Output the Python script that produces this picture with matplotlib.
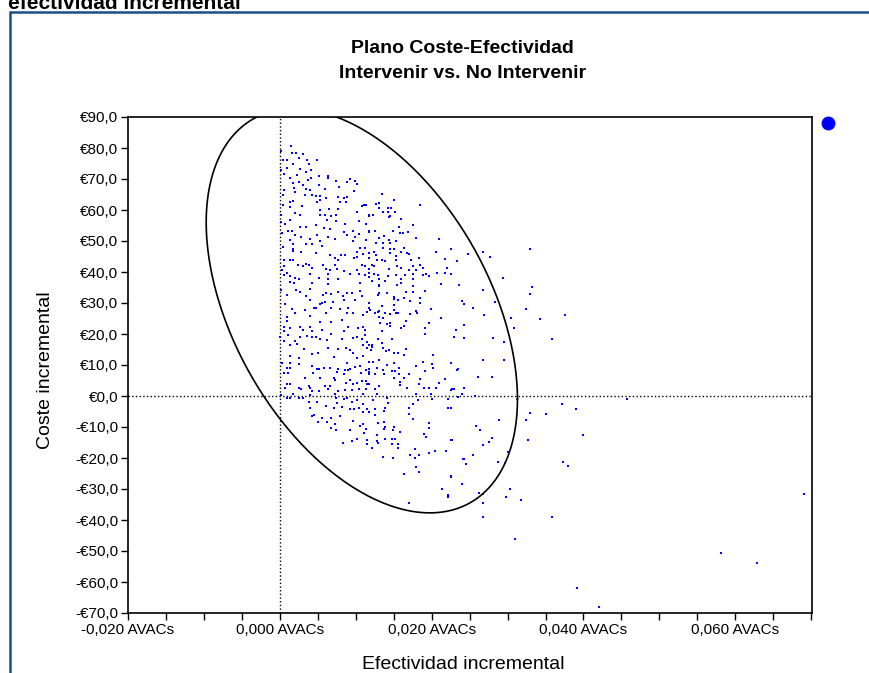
"""
Plano coste-efectividad: Intervenir vs. No Intervenir
"""

import numpy as np
import matplotlib
matplotlib.use('Agg')
import matplotlib.pyplot as plt
from matplotlib.lines import Line2D
from matplotlib.patches import Rectangle
from matplotlib.ticker import FuncFormatter, MultipleLocator

plt.rcParams['font.family'] = ['Liberation Sans', 'DejaVu Sans']

# Simulaciones (efectividad en AVACs, coste en €)
nube_superior = [
    (0.0015, 80.8), (0.0001, 79.0), (0.0016, 78.3), (0.0021, 78.3), (0.0031, 78.0),
    (0.0004, 76.1), (0.0009, 76.1), (0.0025, 76.7), (0.0036, 76.1), (0.0049, 76.1), (0.0039, 74.7), (0.0017, 74.7),
    (0.0010, 73.5), (0.0001, 72.9), (0.0026, 73.1), (0.0041, 73.0), (0.0035, 72.4),
    (0.0005, 71.5), (0.0022, 71.3), (0.0052, 71.1), (0.0064, 71.1), (0.0013, 70.4), (0.0041, 70.4), (0.0037, 69.7),
    (0.0074, 69.5), (0.0064, 70.2), (0.0088, 69.1), (0.0093, 69.9), (0.0099, 69.5),
    (0.0018, 68.6), (0.0025, 69.1), (0.0031, 68.1), (0.0052, 68.1), (0.0078, 67.3), (0.0019, 67.2), (0.0035, 66.8),
    (0.0060, 66.8), (0.0040, 66.5), (0.0101, 68.3), (0.0098, 66.2), (0.0005, 66.5),
    (0.0020, 65.7), (0.0004, 64.9), (0.0033, 64.9), (0.0042, 64.9), (0.0048, 64.5), (0.0053, 64.5), (0.0053, 63.2),
    (0.0061, 63.8), (0.0077, 64.1), (0.0084, 63.8), (0.0089, 64.3), (0.0079, 62.7), (0.0013, 62.7), (0.0017, 62.9),
    (0.0049, 62.7), (0.0087, 62.7),
    (0.0004, 61.6), (0.0029, 61.4), (0.0014, 61.1), (0.0108, 61.3), (0.0111, 61.6), (0.0114, 61.6), (0.0053, 60.0),
    (0.0065, 60.3), (0.0077, 60.3), (0.0074, 58.4), (0.0060, 58.4), (0.0053, 58.4), (0.0068, 58.1), (0.0101, 59.2),
    (0.0020, 58.9), (0.0027, 58.4), (0.0001, 58.4), (0.0118, 58.2),
    (0.0014, 56.8), (0.0062, 56.8), (0.0074, 56.3), (0.0104, 56.3), (0.0001, 56.0), (0.0007, 55.4), (0.0048, 55.2),
    (0.0086, 55.4), (0.0114, 55.4), (0.0026, 54.6), (0.0035, 54.6), (0.0058, 54.1), (0.0066, 53.9), (0.0011, 53.3),
    (0.0016, 53.3), (0.0084, 53.0), (0.0097, 53.2), (0.0117, 53.0), (0.0104, 52.2), (0.0003, 52.5),
    (0.0020, 51.9), (0.0028, 51.4), (0.0049, 51.9), (0.0064, 51.4), (0.0088, 51.9), (0.0099, 51.4), (0.0014, 50.3),
    (0.0040, 50.7), (0.0053, 50.0), (0.0073, 50.7), (0.0096, 50.0), (0.0114, 50.3), (0.0017, 48.9), (0.0035, 48.9),
    (0.0042, 48.9), (0.0055, 48.5), (0.0106, 47.6), (0.0112, 47.6), (0.0004, 48.2), (0.0017, 47.4),
    (0.0135, 65.1), (0.0150, 63.1), (0.0127, 61.8), (0.0131, 62.4), (0.0130, 60.6), (0.0143, 60.6), (0.0147, 60.6),
    (0.0184, 61.5), (0.0136, 59.5), (0.0142, 59.5), (0.0152, 59.5), (0.0118, 58.3), (0.0123, 58.3), (0.0144, 57.9),
    (0.0145, 58.1), (0.0160, 57.0), (0.0175, 55.2), (0.0157, 54.6), (0.0118, 53.2), (0.0126, 53.2), (0.0149, 53.2),
    (0.0158, 52.5), (0.0162, 52.5), (0.0169, 53.0), (0.0137, 51.6), (0.0131, 50.9), (0.0144, 50.3), (0.0153, 50.0),
    (0.0180, 50.9), (0.0210, 50.7), (0.0127, 49.3), (0.0136, 49.3), (0.0145, 49.3), (0.0136, 47.7), (0.0145, 47.4),
    (0.0151, 47.4), (0.0163, 47.7), (0.0225, 47.4),
]

nube_media = [
    (0.0018, 46.9), (0.0028, 46.6), (0.0048, 46.0), (0.0066, 45.6), (0.0080, 45.5), (0.0086, 45.4), (0.0102, 46.6),
    (0.0109, 45.8), (0.0118, 46.2), (0.0101, 45.0),
    (0.0005, 43.9), (0.0014, 43.9), (0.0018, 43.9), (0.0073, 44.4), (0.0077, 43.9), (0.0098, 44.4), (0.0117, 44.4),
    (0.0035, 42.6), (0.0039, 42.3), (0.0024, 42.3), (0.0031, 41.9), (0.0057, 42.3), (0.0073, 42.3), (0.0108, 42.3),
    (0.0112, 41.9), (0.0006, 41.9),
    (0.0003, 40.6), (0.0042, 41.2), (0.0061, 40.9), (0.0066, 40.6), (0.0075, 40.9), (0.0084, 40.4), (0.0101, 40.6),
    (0.0117, 40.9), (0.0009, 39.6), (0.0040, 39.4), (0.0064, 39.4), (0.0092, 39.4), (0.0104, 39.4), (0.0005, 39.0),
    (0.0013, 38.7), (0.0112, 39.0), (0.0117, 38.5),
    (0.0020, 38.0), (0.0025, 37.6), (0.0052, 38.0), (0.0063, 37.6), (0.0077, 37.6),
    (0.0014, 36.7), (0.0019, 36.4), (0.0042, 36.6), (0.0063, 36.1), (0.0106, 36.4),
    (0.0001, 34.2), (0.0021, 34.2), (0.0026, 33.7), (0.0040, 34.4), (0.0061, 33.3), (0.0068, 32.9), (0.0077, 33.7),
    (0.0089, 33.1), (0.0095, 33.3), (0.0105, 33.9),
    (0.0009, 32.6), (0.0035, 32.1), (0.0057, 32.6), (0.0083, 32.1), (0.0099, 31.0), (0.0108, 32.1),
    (0.0040, 31.0), (0.0060, 30.4), (0.0070, 30.4), (0.0084, 31.0),
    (0.0007, 29.7), (0.0053, 29.7), (0.0055, 29.9), (0.0118, 30.1),
    (0.0048, 28.3), (0.0045, 28.3), (0.0068, 28.3), (0.0079, 28.0), (0.0090, 28.3), (0.0016, 28.0), (0.0033, 27.7),
    (0.0119, 27.7), (0.0115, 27.2),
    (0.0020, 26.9), (0.0061, 26.9), (0.0088, 26.9), (0.0096, 26.7),
    (0.0040, 25.8), (0.0009, 25.6), (0.0110, 26.1),
    (0.0009, 24.3), (0.0068, 24.0), (0.0082, 24.5), (0.0053, 24.0),
    (0.0006, 22.4), (0.0026, 22.2), (0.0040, 22.2), (0.0103, 21.8), (0.0109, 22.2), (0.0090, 22.4), (0.0013, 21.8),
    (0.0005, 21.1), (0.0031, 21.3), (0.0043, 21.1), (0.0055, 21.3), (0.0084, 21.1), (0.0112, 21.3),
    (0.0011, 19.7), (0.0036, 19.4), (0.0068, 20.0), (0.0112, 19.7),
    (0.0000, 18.9), (0.0026, 18.9), (0.0042, 18.9), (0.0048, 18.9), (0.0053, 18.3), (0.0097, 18.6), (0.0101, 18.9),
    (0.0082, 18.3), (0.0005, 17.9), (0.0020, 17.9), (0.0062, 18.1), (0.0115, 17.5), (0.0108, 18.3),
    (0.0014, 16.5), (0.0023, 16.8), (0.0109, 16.5), (0.0118, 16.5),
    (0.0032, 15.1), (0.0064, 15.6), (0.0087, 15.4), (0.0092, 14.9), (0.0115, 15.4), (0.0077, 15.1),
    (0.0050, 13.8), (0.0014, 12.9), (0.0025, 12.2), (0.0042, 13.6), (0.0097, 13.8), (0.0109, 12.9),
    (0.0101, 12.2), (0.0071, 12.5), (0.0003, 10.5), (0.0013, 10.5), (0.0025, 10.3), (0.0088, 10.5), (0.0117, 11.1),
    (0.0124, 46.6), (0.0127, 45.5), (0.0145, 46.0), (0.0153, 45.2), (0.0160, 46.6), (0.0167, 46.0), (0.0170, 45.8),
    (0.0206, 46.6), (0.0128, 43.9), (0.0135, 43.9), (0.0138, 43.7), (0.0173, 43.9), (0.0183, 44.4), (0.0218, 44.1),
    (0.0233, 43.7), (0.0153, 43.9),
    (0.0122, 42.3), (0.0124, 41.9), (0.0154, 41.9), (0.0160, 41.2), (0.0175, 41.9), (0.0184, 42.3), (0.0144, 40.9),
    (0.0170, 40.6), (0.0180, 40.6), (0.0189, 41.2), (0.0220, 41.2), (0.0207, 39.8), (0.0217, 39.8),
    (0.0118, 39.6), (0.0124, 39.4), (0.0129, 39.0), (0.0143, 38.7), (0.0153, 39.0), (0.0165, 39.0), (0.0175, 39.4),
    (0.0189, 39.0), (0.0193, 39.4), (0.0196, 38.7), (0.0225, 39.4),
    (0.0122, 37.2), (0.0131, 37.6), (0.0138, 37.2), (0.0159, 37.6), (0.0176, 37.6), (0.0160, 36.4), (0.0154, 35.8),
    (0.0130, 35.8), (0.0131, 35.5), (0.0176, 35.5), (0.0212, 36.1), (0.0236, 35.8),
    (0.0130, 33.1), (0.0129, 32.6), (0.0141, 33.1), (0.0166, 33.7), (0.0175, 33.7), (0.0191, 34.0),
    (0.0150, 31.8), (0.0150, 31.2), (0.0156, 31.0), (0.0164, 31.5), (0.0184, 31.5), (0.0171, 30.8), (0.0185, 29.9),
    (0.0240, 30.8), (0.0243, 29.7), (0.0118, 28.3), (0.0134, 29.1), (0.0150, 29.4),
    (0.0125, 26.7), (0.0129, 27.2), (0.0131, 27.5), (0.0139, 26.7), (0.0145, 26.5), (0.0150, 27.7), (0.0153, 26.7),
    (0.0155, 26.9), (0.0171, 26.5), (0.0179, 27.5), (0.0181, 26.9), (0.0199, 28.0),
    (0.0130, 25.6), (0.0136, 25.1), (0.0212, 25.1),
    (0.0166, 24.3), (0.0132, 23.5), (0.0141, 23.2), (0.0145, 23.5), (0.0145, 22.6), (0.0163, 22.6), (0.0160, 21.8),
    (0.0196, 23.5), (0.0191, 21.8), (0.0243, 22.9),
    (0.0135, 21.0), (0.0232, 21.3), (0.0191, 20.0),
    (0.0129, 18.3), (0.0148, 18.3), (0.0230, 18.9), (0.0243, 18.6),
    (0.0135, 17.2), (0.0122, 16.5), (0.0122, 15.9),
    (0.0136, 15.4), (0.0144, 14.9), (0.0166, 15.1), (0.0120, 14.9), (0.0140, 14.5),
    (0.0151, 13.8), (0.0155, 13.8), (0.0163, 13.2), (0.0202, 13.2),
    (0.0130, 11.6), (0.0123, 11.1), (0.0150, 10.5), (0.0188, 10.9), (0.0200, 10.3), (0.0225, 10.5),
]

nube_inferior = [
    (0.0042, 9.8), (0.0009, 8.9), (0.0014, 8.9), (0.0049, 8.7), (0.0052, 8.7), (0.0058, 8.9), (0.0066, 9.1),
    (0.0076, 8.7), (0.0086, 8.4), (0.0090, 8.4), (0.0093, 8.7), (0.0099, 9.5), (0.0106, 9.8), (0.0114, 8.4),
    (0.0005, 7.3), (0.0011, 7.3), (0.0044, 7.3), (0.0075, 7.6), (0.0084, 7.0), (0.0107, 7.3), (0.0117, 7.6),
    (0.0033, 5.7), (0.0053, 5.9), (0.0071, 5.9), (0.0073, 5.2), (0.0092, 5.2), (0.0108, 4.8), (0.0114, 4.8),
    (0.0010, 3.8), (0.0013, 3.8), (0.0038, 3.3), (0.0025, 2.5), (0.0028, 2.3), (0.0040, 2.5), (0.0060, 3.3),
    (0.0066, 3.3), (0.0087, 4.1), (0.0096, 3.8), (0.0102, 4.1), (0.0115, 3.8), (0.0118, 3.8),
    (0.0007, 2.5), (0.0042, 1.6), (0.0052, 1.6), (0.0063, 2.3), (0.0077, 1.6), (0.0086, 1.9), (0.0095, 1.9),
    (0.0104, 2.3), (0.0114, 2.3),
    (0.0001, 0.3), (0.0017, 0.5), (0.0040, 0.3), (0.0073, 0.5), (0.0110, 0.5),
    (0.0010, -0.8), (0.0013, -0.5), (0.0025, -0.8), (0.0030, -0.8), (0.0074, -0.8), (0.0084, -1.0), (0.0089, -0.8),
    (0.0101, -1.3), (0.0038, -2.0), (0.0049, -1.8), (0.0075, -2.4), (0.0095, -2.0), (0.0109, -2.7),
    (0.0040, -3.8), (0.0061, -3.1), (0.0071, -3.8), (0.0082, -3.4), (0.0093, -4.2), (0.0098, -4.2), (0.0104, -4.0),
    (0.0115, -4.2), (0.0042, -6.3), (0.0045, -6.1), (0.0055, -7.0), (0.0067, -7.0), (0.0079, -6.3), (0.0109, -5.1),
    (0.0062, -8.3), (0.0050, -8.5), (0.0096, -8.1), (0.0073, -9.1),
    (0.0106, -9.6), (0.0109, -9.1), (0.0068, -10.2), (0.0074, -11.0), (0.0092, -11.0), (0.0111, -12.0),
    (0.0114, -10.6), (0.0101, -13.9), (0.0095, -14.5), (0.0115, -14.2), (0.0083, -15.3), (0.0115, -15.6),
    (0.0118, 8.7), (0.0128, 8.9), (0.0136, 8.4), (0.0141, 10.0), (0.0148, 8.1), (0.0152, 8.1), (0.0157, 9.1),
    (0.0180, 9.8), (0.0191, 8.1), (0.0202, 8.9), (0.0233, 8.4), (0.0235, 8.7),
    (0.0118, 7.0), (0.0125, 7.0), (0.0137, 7.0), (0.0157, 7.0), (0.0170, 7.0),
    (0.0151, 5.7), (0.0164, 5.7), (0.0185, 5.5), (0.0217, 5.5),
    (0.0158, 4.4), (0.0158, 3.6), (0.0130, 3.3), (0.0183, 3.8), (0.0210, 4.1),
    (0.0126, 2.3), (0.0167, 2.5), (0.0190, 2.5), (0.0197, 2.5), (0.0206, 2.5), (0.0227, 2.3), (0.0230, 2.3),
    (0.0242, 2.7), (0.0226, 1.9),
    (0.0128, 0.5), (0.0179, 0.5), (0.0199, 0.5), (0.0240, 0.5),
    (0.0123, -1.3), (0.0141, -0.8), (0.0182, -1.3), (0.0201, -1.0), (0.0222, -1.0), (0.0235, -0.2),
    (0.0143, -2.4), (0.0175, -2.7), (0.0118, -5.3), (0.0126, -4.2), (0.0138, -3.8), (0.0170, -3.8), (0.0222, -4.0),
    (0.0226, -3.8), (0.0137, -4.8), (0.0126, -6.1), (0.0170, -5.9), (0.0175, -7.4),
    (0.0129, -8.8), (0.0137, -8.5), (0.0196, -8.8), (0.0138, -9.9), (0.0150, -9.9), (0.0137, -10.6), (0.0149, -11.0),
    (0.0197, -10.4), (0.0158, -11.7),
    (0.0128, -12.6), (0.0190, -12.4), (0.0193, -13.1), (0.0138, -13.9), (0.0148, -13.9), (0.0152, -13.9),
    (0.0128, -14.5), (0.0227, -14.2), (0.0129, -15.3), (0.0148, -15.6), (0.0155, -15.6),
    (0.0122, -16.9), (0.0155, -16.9), (0.0178, -17.1), (0.0204, -17.7), (0.0219, -17.7), (0.0197, -18.5),
    (0.0171, -19.0), (0.0183, -19.0), (0.0136, -19.6), (0.0149, -20.1), (0.0178, -19.9), (0.0241, -20.3),
    (0.0179, -22.8), (0.0183, -24.4), (0.0163, -25.3), (0.0225, -25.8),
]

puntos_dispersos = [
    (0.0267, 46.5), (0.0277, 44.9), (0.0330, 47.3), (0.0294, 38.0), (0.0332, 35.3), (0.0330, 32.9), (0.0267, 34.2),
    (0.0254, 28.3), (0.0269, 26.1), (0.0283, 30.4), (0.0304, 25.1), (0.0324, 28.0), (0.0343, 24.7), (0.0376, 26.1),
    (0.0248, 45.8), (0.0308, 21.8), (0.0281, 18.6), (0.0295, 11.6), (0.0359, 18.3), (0.0279, 6.2), (0.0267, 11.6),
    (0.0261, 6.2), (0.0257, 0.0), (0.0372, -2.6), (0.0295, 17.3),
    (0.0289, -7.7), (0.0329, -5.6), (0.0350, -5.8), (0.0324, -7.7), (0.0258, -9.7), (0.0264, -11.0), (0.0280, -13.6),
    (0.0275, -14.7), (0.0267, -15.8), (0.0327, -14.2), (0.0300, -18.0), (0.0297, -21.5), (0.0287, -21.2),
    (0.0254, -19.0), (0.0242, -20.4), (0.0245, -21.9), (0.0373, -21.2), (0.0379, -22.6), (0.0225, -14.2),
    (0.0226, -26.0), (0.0240, -28.4), (0.0213, -30.0), (0.0221, -31.9), (0.0221, -32.7), (0.0170, -34.6),
    (0.0262, -31.4), (0.0268, -31.7), (0.0267, -34.4), (0.0268, -38.9), (0.0303, -29.9), (0.0298, -32.5),
    (0.0318, -33.5), (0.0310, -46.2), (0.0358, -38.9),
    (0.0457, -1.1), (0.0390, -4.3), (0.0400, -12.7), (0.0690, -31.7), (0.0581, -50.8), (0.0628, -54.0),
    (0.0391, -62.0), (0.0420, -68.2),
]

# Elipse de confianza (centro, semiejes en x/y y correlacion)
elipse_centro = (0.0108, 27.5)
elipse_sx = 0.0205
elipse_sy = 65.2
elipse_r = -0.437

titulo = 'Plano Coste-Efectividad\nIntervenir vs. No Intervenir'
x_ticks = [-0.02, 0.0, 0.02, 0.04, 0.06]
y_ticks = list(range(-70, 91, 10))


def fmt_euro(v, pos):
    s = f"{abs(v):.1f}".replace('.', ',')
    return ('-' if v < -1e-9 else '') + '€' + s


def fmt_avac(v, pos):
    s = f"{abs(v):.3f}".replace('.', ',')
    return ('-' if v < -1e-9 else '') + s + ' AVACs'


puntos = np.array(nube_superior + nube_media + nube_inferior + puntos_dispersos)

fig = plt.figure(figsize=(8.7, 6.73), dpi=100)
ax = fig.add_axes([128 / 870, 60 / 673, 684 / 870, 496 / 673])

ax.axhline(0, color='black', linestyle=':', linewidth=1.0, zorder=1)
ax.axvline(0, color='black', linestyle=':', linewidth=1.0, zorder=1)

ax.plot(puntos[:, 0], puntos[:, 1], linestyle='none', marker='s', markersize=1.6,
        markeredgewidth=0, color='#0000ff', zorder=2)

t = np.linspace(0, 2 * np.pi, 400)
ex = elipse_centro[0] + elipse_sx * np.cos(t)
ey = elipse_centro[1] + elipse_sy * (elipse_r * np.cos(t) + np.sqrt(1 - elipse_r ** 2) * np.sin(t))
ax.plot(ex, ey, color='black', linewidth=1.2, zorder=3)

ax.set_xlim(-0.02, 0.0701)
ax.set_ylim(-70, 90)
ax.set_xticks(x_ticks)
ax.xaxis.set_minor_locator(MultipleLocator(0.005))
ax.set_yticks(y_ticks)
ax.xaxis.set_major_formatter(FuncFormatter(fmt_avac))
ax.yaxis.set_major_formatter(FuncFormatter(fmt_euro))
ax.tick_params(axis='both', which='major', direction='out', length=5, width=1, labelsize=11, pad=2)
ax.tick_params(axis='x', which='minor', direction='out', length=5, width=1)
for s in ax.spines.values():
    s.set_linewidth(1.2)

ax.set_xlabel('Efectividad incremental', fontsize=14)
ax.xaxis.set_label_coords(0.49, -0.087)
ax.set_ylabel('Coste incremental', fontsize=14)
ax.yaxis.set_label_coords(-0.108, 0.49)

fig.text(0.532, 1 - 61 / 673, titulo, ha='center', va='center', fontsize=14,
         fontweight='bold', linespacing=1.55)

# pie de la figura anterior, recortado en el borde superior como en el original
fig.text(8 / 870, 1 - 9 / 673, 'efectividad incremental', ha='left', va='baseline',
         fontsize=15, fontweight='bold')

fig.add_artist(Rectangle((10 / 870, -0.1), 2, (673 - 12) / 673 + 0.1, transform=fig.transFigure,
                         fill=False, edgecolor='#1a4f86', linewidth=1.8))

marcador = Line2D([], [], marker='o', linestyle='none', color='#0000ff', markersize=9)
ax.legend(handles=[marcador], labels=[''], loc='center', bbox_to_anchor=(828 / 870, 1 - 124 / 673),
          bbox_transform=fig.transFigure, frameon=False, handlelength=1, handletextpad=0,
          borderpad=0, borderaxespad=0)

fig.savefig('out.png', dpi=100)
